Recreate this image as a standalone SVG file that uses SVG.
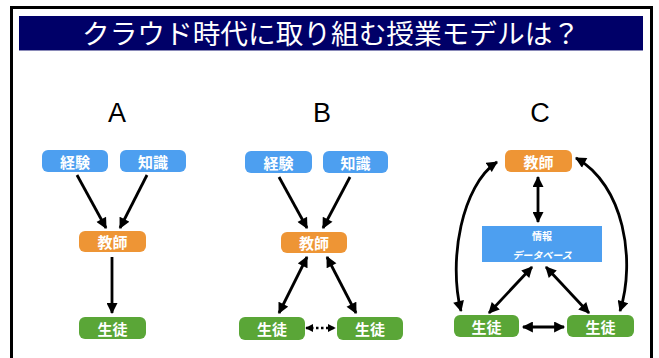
<svg xmlns="http://www.w3.org/2000/svg" width="659" height="358" viewBox="0 0 659 358">
<style>
.lbl{font-family:"Noto Sans CJK JP","Noto Sans",sans-serif;font-size:15px;font-weight:bold;fill:#ffffff;text-anchor:middle;dominant-baseline:central}
.small{font-family:"Noto Sans CJK JP","Noto Sans",sans-serif;font-size:10px;font-weight:bold;fill:#ffffff;text-anchor:middle;dominant-baseline:central}
.big{font-family:"Liberation Sans","DejaVu Sans",sans-serif;font-size:27px;fill:#000000;text-anchor:middle}
.blue{fill:#4d9ff0}
.orange{fill:#ee9535}
.green{fill:#5aa637}
.arr{stroke:#000000;stroke-width:2.8;fill:none;marker-end:url(#ah)}
.arr2{stroke:#000000;stroke-width:2.8;fill:none;marker-end:url(#ah);marker-start:url(#ah)}
.dot{stroke:#000000;stroke-width:2.6;fill:none;stroke-dasharray:2.5,2.5;marker-end:url(#ahs);marker-start:url(#ahs)}
</style>
<defs>
<marker id="ah" viewBox="0 0 10 10" refX="9" refY="5" markerWidth="12" markerHeight="11" markerUnits="userSpaceOnUse" orient="auto-start-reverse">
<path d="M0,0 L10,5 L0,10 z" fill="#000000"/>
</marker>
<marker id="ahs" viewBox="0 0 10 10" refX="9" refY="5" markerWidth="8" markerHeight="8" markerUnits="userSpaceOnUse" orient="auto-start-reverse">
<path d="M0,0 L10,5 L0,10 z" fill="#000000"/>
</marker>
</defs>
<rect x="0" y="0" width="659" height="358" fill="#ffffff"/>
<rect x="11.5" y="7.5" width="640" height="370" fill="#ffffff" stroke="#000000" stroke-width="3"/>
<g id="title">
<rect x="19" y="16" width="624" height="35" fill="#000068"/>
<line x1="19" y1="50.5" x2="643" y2="50.5" stroke="#8a8ab8" stroke-width="1"/>
<text x="331" y="44" font-family="Noto Sans CJK JP,Noto Sans,sans-serif" font-size="27" fill="#ffffff" text-anchor="middle" textLength="498" lengthAdjust="spacingAndGlyphs">クラウド時代に取り組む授業モデルは？</text>
</g>
<g id="headers">
<text class="big" x="117" y="122">A</text>
<text class="big" x="322" y="122">B</text>
<text class="big" x="540" y="122">C</text>
</g>
<g id="connectors">
<line class="arr" x1="77" y1="175" x2="106" y2="228"/>
<line class="arr" x1="147" y1="175" x2="120" y2="228"/>
<line class="arr" x1="112" y1="257" x2="112" y2="313"/>
<line class="arr" x1="279" y1="177" x2="307" y2="228"/>
<line class="arr" x1="350" y1="177" x2="323" y2="228"/>
<line class="arr2" x1="307" y1="257" x2="279" y2="313"/>
<line class="arr2" x1="327" y1="257" x2="356" y2="313"/>
<line class="dot" x1="306" y1="328" x2="335" y2="328"/>
<line class="arr2" x1="538" y1="177" x2="538" y2="222"/>
<line class="arr2" x1="532" y1="267" x2="489" y2="313"/>
<line class="arr2" x1="546" y1="267" x2="589" y2="313"/>
<line class="arr2" x1="523" y1="327" x2="564" y2="327"/>
<path class="arr2" d="M497,162 C462,185 448,260 461,311"/>
<path class="arr2" d="M576,158 C624,185 636,260 620,311"/>
</g>
<g id="A-keiken"><rect class="blue" x="42" y="150" width="66" height="22" rx="6"/><text class="lbl" x="75" y="161">経験</text></g>
<g id="A-chishiki"><rect class="blue" x="120" y="150" width="66" height="22" rx="6"/><text class="lbl" x="153" y="161">知識</text></g>
<g id="A-kyoshi"><rect class="orange" x="79" y="231" width="67" height="21" rx="6"/><text class="lbl" x="112.5" y="241.5">教師</text></g>
<g id="A-seito"><rect class="green" x="79" y="317" width="67" height="22" rx="6"/><text class="lbl" x="112.5" y="328">生徒</text></g>
<g id="B-keiken"><rect class="blue" x="245" y="151" width="67" height="22" rx="6"/><text class="lbl" x="278.5" y="162">経験</text></g>
<g id="B-chishiki"><rect class="blue" x="323" y="151" width="65" height="22" rx="6"/><text class="lbl" x="355.5" y="162">知識</text></g>
<g id="B-kyoshi"><rect class="orange" x="281" y="232" width="66" height="21" rx="6"/><text class="lbl" x="314" y="242.5">教師</text></g>
<g id="B-seito1"><rect class="green" x="239" y="317" width="66" height="23" rx="6"/><text class="lbl" x="272" y="328.5">生徒</text></g>
<g id="B-seito2"><rect class="green" x="337" y="317" width="66" height="23" rx="6"/><text class="lbl" x="370" y="328.5">生徒</text></g>
<g id="C-kyoshi"><rect class="orange" x="505" y="150" width="67" height="22" rx="6"/><text class="lbl" x="538.5" y="161">教師</text></g>
<g id="C-db"><rect class="blue" x="482" y="226" width="120" height="36"/><text class="small" x="542" y="235">情報</text><text class="small" x="542" y="254" font-style="italic">データベース</text></g>
<g id="C-seito1"><rect class="green" x="454" y="315" width="65" height="22" rx="6"/><text class="lbl" x="486.5" y="326">生徒</text></g>
<g id="C-seito2"><rect class="green" x="567" y="315" width="67" height="22" rx="6"/><text class="lbl" x="600.5" y="326">生徒</text></g>
</svg>
